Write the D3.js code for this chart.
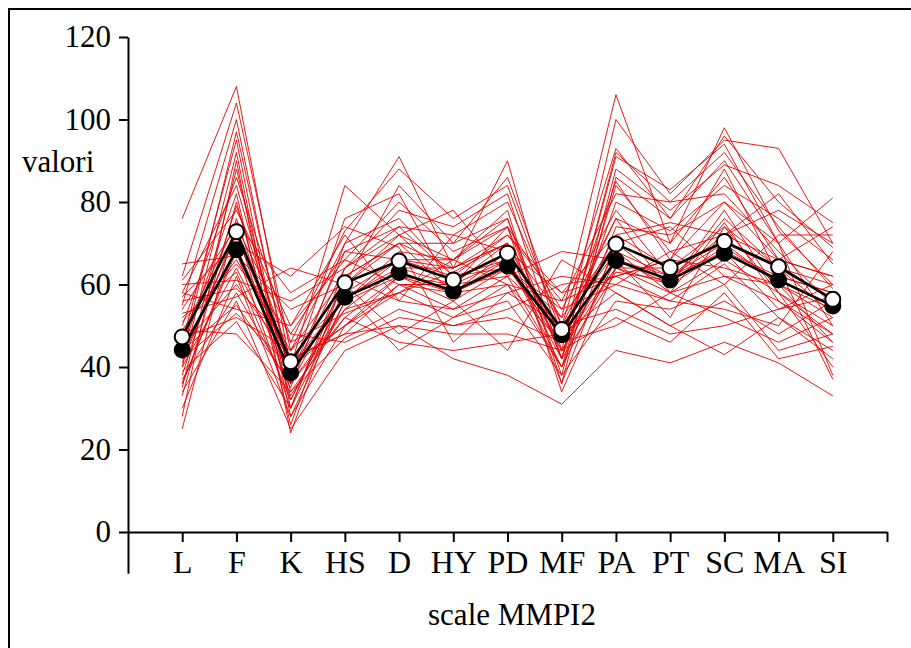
<!DOCTYPE html>
<meta charset="utf-8">
<head>
<title>scale MMPI2</title>
<style>
body { margin: 0; background: #fff; }
.axis path, .axis line { stroke: #000; stroke-width: 2; }
</style>
</head>
<body>
<div id="chart"></div>
<script src="https://d3js.org/d3.v7.min.js"></script>
<script>
var width = 911,
    height = 648;
var serif = "'Liberation Serif', 'Times New Roman', Times, 'DejaVu Serif', serif";

// scale names along the x axis
var categories = ["L", "F", "K", "HS", "D", "HY", "PD", "MF", "PA", "PT", "SC", "MA", "SI"];

// the two group means (black lines)
var meanFilled = [44.1, 68.4, 38.6, 56.9, 62.9, 58.4, 64.5, 47.8, 65.8, 61.1, 67.6, 61.1, 54.8];
var meanOpen   = [47.3, 72.8, 41.3, 60.4, 65.7, 61.1, 67.6, 49.1, 69.8, 64.1, 70.4, 64.3, 56.4];

// single subject profiles (red lines)
var profiles = [
  [76, 108, 40, 84, 72, 60, 70, 52, 106, 70, 98, 73, 60],
  [62, 104, 44, 70, 91, 64, 90, 44, 100, 82, 95, 93, 70],
  [55, 100, 36, 60, 84, 70, 86, 50, 93, 76, 96, 80, 69],
  [46, 95, 30, 64, 78, 74, 82, 42, 91, 83, 94, 70, 81],
  [40, 92, 28, 56, 68, 66, 76, 38, 88, 78, 89, 84, 75],
  [35, 88, 34, 52, 62, 56, 64, 46, 85, 66, 88, 62, 58],
  [50, 86, 46, 73, 88, 76, 84, 48, 76, 70, 86, 66, 62],
  [58, 84, 38, 68, 74, 62, 72, 56, 82, 80, 82, 68, 55],
  [44, 82, 26, 62, 70, 58, 60, 40, 74, 72, 80, 70, 50],
  [33, 80, 32, 58, 66, 66, 78, 36, 70, 60, 78, 58, 48],
  [38, 79, 42, 48, 60, 54, 62, 50, 68, 58, 75, 56, 46],
  [61, 78, 50, 72, 56, 72, 68, 58, 72, 75, 72, 82, 65],
  [25, 76, 36, 54, 64, 60, 66, 44, 64, 64, 70, 60, 52],
  [48, 75, 58, 66, 80, 68, 74, 54, 78, 62, 68, 54, 60],
  [54, 74, 48, 46, 52, 50, 54, 60, 62, 56, 65, 52, 44],
  [42, 72, 40, 50, 58, 63, 70, 46, 66, 52, 74, 64, 37],
  [57, 70, 62, 74, 69, 46, 58, 62, 60, 68, 60, 72, 72],
  [36, 68, 30, 62, 70, 70, 76, 42, 80, 73, 84, 76, 66],
  [65, 67, 54, 60, 48, 56, 44, 66, 58, 50, 56, 48, 56],
  [49, 66, 44, 56, 66, 62, 64, 52, 70, 74, 62, 60, 54],
  [40, 64, 38, 76, 82, 58, 68, 48, 72, 64, 74, 58, 40],
  [52, 63, 32, 58, 44, 52, 56, 38, 56, 54, 60, 44, 48],
  [30, 62, 28, 50, 60, 60, 74, 34, 64, 60, 68, 62, 58],
  [60, 61, 56, 64, 74, 72, 80, 50, 76, 58, 52, 46, 52],
  [45, 60, 42, 48, 50, 48, 48, 44, 52, 46, 58, 42, 45],
  [56, 59, 46, 53, 58, 66, 60, 56, 62, 66, 80, 66, 62],
  [37, 58, 35, 70, 76, 62, 66, 40, 84, 68, 72, 78, 70],
  [49, 48, 34, 47, 54, 50, 52, 46, 50, 58, 62, 56, 48],
  [53, 57, 64, 60, 72, 78, 62, 68, 66, 62, 70, 64, 60],
  [34, 56, 25, 44, 50, 42, 38, 31, 44, 41, 46, 41, 33],
  [44, 55, 36, 52, 46, 44, 46, 48, 58, 50, 43, 52, 42],
  [58, 54, 50, 66, 60, 58, 64, 54, 60, 56, 54, 50, 68],
  [42, 53, 40, 57, 64, 64, 70, 44, 68, 62, 72, 66, 74],
  [47, 52, 44, 62, 56, 54, 58, 50, 54, 48, 50, 54, 57],
  [39, 51, 30, 56, 62, 60, 62, 40, 66, 60, 76, 64, 53],
  [51, 65, 48, 68, 66, 64, 72, 58, 62, 66, 64, 60, 46],
  [28, 90, 24, 60, 70, 64, 70, 36, 86, 76, 90, 70, 38],
  [43, 97, 38, 64, 72, 66, 74, 42, 92, 80, 92, 74, 59],
  [41, 73, 33, 54, 58, 52, 60, 46, 64, 58, 66, 58, 50],
  [36, 69, 41, 50, 62, 58, 66, 42, 63, 61, 69, 61, 55]
];

var yMajor = [0, 20, 40, 60, 80, 100, 120];
var yMinor = [-10, 10, 30, 50, 70, 90, 110];

var x = d3.scaleLinear().domain([0, 14]).range([128, 887]);
var y = d3.scaleLinear().domain([-10, 120]).range([573.25, 37]);

var svg = d3.select("#chart").append("svg")
    .attr("width", width)
    .attr("height", height);

svg.append("rect")
    .attr("width", width)
    .attr("height", height)
    .attr("fill", "#fff");

// outer frame (runs off the right and bottom edges)
svg.append("rect")
    .attr("x", 9).attr("y", 9)
    .attr("width", 940).attr("height", 680)
    .attr("fill", "none")
    .attr("stroke", "#000")
    .attr("stroke-width", 2);

var line = d3.line()
    .x(function(d, i) { return x(i + 1); })
    .y(function(d) { return y(d); });

svg.append("g")
    .selectAll("path")
    .data(profiles)
    .enter().append("path")
    .attr("d", line)
    .attr("fill", "none")
    .attr("stroke", "#e20000")
    .attr("stroke-width", 0.9);

/* axes */
var gy = svg.append("g")
    .attr("class", "axis")
    .attr("transform", "translate(" + x(0) + ",0)");

gy.call(d3.axisLeft(y).tickValues(yMinor).tickSize(4).tickFormat(""));
gy.call(d3.axisLeft(y).tickValues(yMajor).tickSizeInner(9).tickSizeOuter(0).tickPadding(8));
gy.attr("font-family", serif);
gy.selectAll("text")
    .attr("font-family", serif)
    .attr("font-size", 31)
    .attr("dy", "0.32em");

var gx = svg.append("g")
    .attr("class", "axis")
    .attr("transform", "translate(0," + y(0) + ")");

var xMinor = d3.range(0.5, 14, 1);
var xMajor = d3.range(1, 15, 1);

gx.call(d3.axisBottom(x).tickValues(xMinor).tickSize(5).tickFormat(""));
gx.call(d3.axisBottom(x).tickValues(xMajor).tickSizeInner(10).tickSizeOuter(0)
    .tickFormat(function(d) { return categories[d - 1] || ""; }));
gx.attr("font-family", serif);
gx.selectAll("text")
    .attr("font-family", serif)
    .attr("font-size", 32)
    .attr("y", 41)
    .attr("dy", 0);

/* mean lines */
function drawMean(values, fill) {
  svg.append("path")
      .datum(values)
      .attr("d", line)
      .attr("fill", "none")
      .attr("stroke", "#000")
      .attr("stroke-width", 2.6);
  svg.append("g")
      .selectAll("circle")
      .data(values)
      .enter().append("circle")
      .attr("cx", function(d, i) { return x(i + 1); })
      .attr("cy", function(d) { return y(d); })
      .attr("r", 7.5)
      .attr("fill", fill)
      .attr("stroke", "#000")
      .attr("stroke-width", 2);
}

drawMean(meanFilled, "#000");
drawMean(meanOpen, "#fff");

/* titles */
svg.append("text")
    .attr("x", 22)
    .attr("y", 172)
    .attr("font-family", serif)
    .attr("font-size", 31)
    .text("valori");

svg.append("text")
    .attr("x", 512)
    .attr("y", 625)
    .attr("text-anchor", "middle")
    .attr("font-family", serif)
    .attr("font-size", 31)
    .text("scale MMPI2");
</script>
</body>
